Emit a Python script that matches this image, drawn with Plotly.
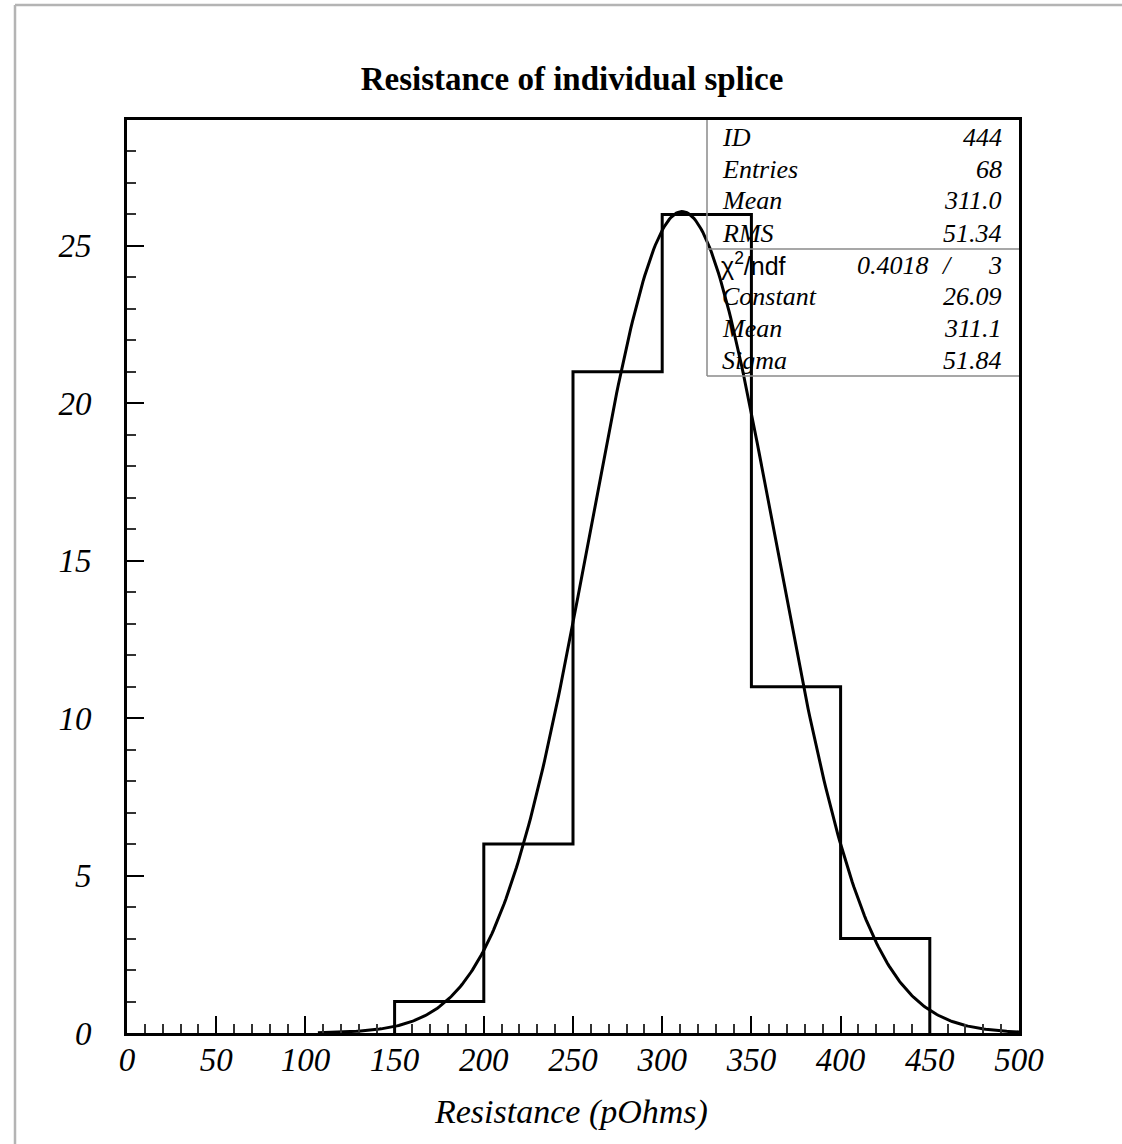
import numpy as np
import plotly.graph_objects as go

# ---- data ----
bin_edges = [150, 200, 250, 300, 350, 400, 450]
bin_counts = [1, 6, 21, 26, 11, 3]

fit_constant = 26.09
fit_mean = 311.1
fit_sigma = 51.84
fit_range = [107, 500]

stats_top_labels = ["ID", "Entries", "Mean", "RMS"]
stats_top_values = ["444", "68", "311.0", "51.34"]
chi2_value = "0.4018"
ndf_value = "3"
stats_fit_labels = ["Constant", "Mean", "Sigma"]
stats_fit_values = ["26.09", "311.1", "51.84"]

x_ticks = list(range(0, 501, 50))
y_ticks = list(range(0, 26, 5))

# ---- geometry helpers (pixels -> paper) ----
W, H = 1122, 1144
L, R, T, B = 127, 1019, 120, 1033


def px(x):
    return (x - L) / (R - L)


def py(y):
    return (B - y) / (B - T)


# histogram step outline
hx = [bin_edges[0]] + bin_edges[:-1] + [bin_edges[-1]]
hy = [0] + bin_counts + [0]

# gaussian fit curve from fit parameters
cx = np.linspace(fit_range[0], fit_range[1], 400)
cy = fit_constant * np.exp(-0.5 * ((cx - fit_mean) / fit_sigma) ** 2)

fig = go.Figure()
fig.add_trace(go.Scatter(x=hx, y=hy, mode="lines", line=dict(shape="hv", color="black", width=3),
                         hoverinfo="skip", showlegend=False, cliponaxis=False))
fig.add_trace(go.Scatter(x=cx, y=cy, mode="lines", line=dict(color="black", width=3),
                         hoverinfo="skip", showlegend=False))

serif = "Liberation Serif"
tickfont = dict(family=serif, size=33, color="black", style="italic")

fig.update_layout(
    width=W, height=H,
    margin=dict(l=L, r=W - R, t=T, b=H - B),
    paper_bgcolor="white", plot_bgcolor="white",
    title=dict(text="Resistance of individual splice", x=572 / W, xanchor="center",
               y=1 - 78 / H, yanchor="middle",
               font=dict(family=serif, size=33, color="black", weight="bold")),
    xaxis=dict(range=[0, 500], tickvals=x_ticks, ticks="inside", ticklen=17, tickwidth=2,
               tickcolor="black", showline=True, linewidth=3, linecolor="black", mirror=True,
               showgrid=False, zeroline=False, tickfont=tickfont, ticklabelstandoff=-5,
               minor=dict(dtick=10, tick0=0, ticks="inside", ticklen=9, tickwidth=1.5,
                          tickcolor="#333", showgrid=False)),
    yaxis=dict(range=[0, 29], tickvals=y_ticks, ticks="inside", ticklen=17, tickwidth=2,
               tickcolor="black", showline=True, linewidth=3, linecolor="black", mirror=True,
               showgrid=False, zeroline=False, tickfont=tickfont, ticklabelstandoff=26,
               minor=dict(dtick=1, tick0=0, ticks="inside", ticklen=9, tickwidth=1.5,
                          tickcolor="#333", showgrid=False)),
)

# x-axis title
fig.add_annotation(text="Resistance (pOhms)", xref="paper", yref="paper",
                   x=px(571), y=py(1112), xanchor="center", yanchor="middle", showarrow=False,
                   font=dict(family=serif, size=34, color="black", style="italic"))

# outer gray frame (left and top edges)
frame_col = "#b4b4b4"
fig.add_shape(type="line", xref="paper", yref="paper", x0=px(15), x1=px(15), y0=py(5), y1=py(H + 5),
              line=dict(color=frame_col, width=2.5))
fig.add_shape(type="line", xref="paper", yref="paper", x0=px(15), x1=px(W + 5), y0=py(5), y1=py(5),
              line=dict(color=frame_col, width=2.5))

# stats box
box_col = "#8a8a8a"
fig.add_shape(type="line", xref="paper", yref="paper", x0=px(707), x1=px(707), y0=py(120), y1=py(376),
              line=dict(color=box_col, width=1.5))
fig.add_shape(type="line", xref="paper", yref="paper", x0=px(707), x1=px(1019), y0=py(376), y1=py(376),
              line=dict(color=box_col, width=1.5))
fig.add_shape(type="line", xref="paper", yref="paper", x0=px(707), x1=px(1019), y0=py(249), y1=py(249),
              line=dict(color=box_col, width=1.5))

sfont = dict(family=serif, size=26, color="black", style="italic")
row_y_top = [137, 169, 201, 233]
for lab, val, yy in zip(stats_top_labels, stats_top_values, row_y_top):
    fig.add_annotation(text=lab, xref="paper", yref="paper", x=px(720), y=py(yy), xanchor="left",
                       yanchor="middle", showarrow=False, font=sfont)
    fig.add_annotation(text=val, xref="paper", yref="paper", x=px(1004), y=py(yy), xanchor="right",
                       yanchor="middle", showarrow=False, font=sfont)

# chi2 / ndf row
fig.add_annotation(text="χ<sup>2</sup>/ndf", xref="paper", yref="paper", x=px(719), y=py(264),
                   xanchor="left", yanchor="middle", showarrow=False,
                   font=dict(family="Liberation Sans", size=25, color="black"))
fig.add_annotation(text=chi2_value, xref="paper", yref="paper", x=px(931), y=py(265), xanchor="right",
                   yanchor="middle", showarrow=False, font=sfont)
fig.add_annotation(text="/", xref="paper", yref="paper", x=px(947), y=py(265), xanchor="center",
                   yanchor="middle", showarrow=False, font=sfont)
fig.add_annotation(text=ndf_value, xref="paper", yref="paper", x=px(1004), y=py(265), xanchor="right",
                   yanchor="middle", showarrow=False, font=sfont)

row_y_fit = [296, 328, 360]
for lab, val, yy in zip(stats_fit_labels, stats_fit_values, row_y_fit):
    fig.add_annotation(text=lab, xref="paper", yref="paper", x=px(720), y=py(yy), xanchor="left",
                       yanchor="middle", showarrow=False, font=sfont)
    fig.add_annotation(text=val, xref="paper", yref="paper", x=px(1004), y=py(yy), xanchor="right",
                       yanchor="middle", showarrow=False, font=sfont)

fig.write_html("out.html")
